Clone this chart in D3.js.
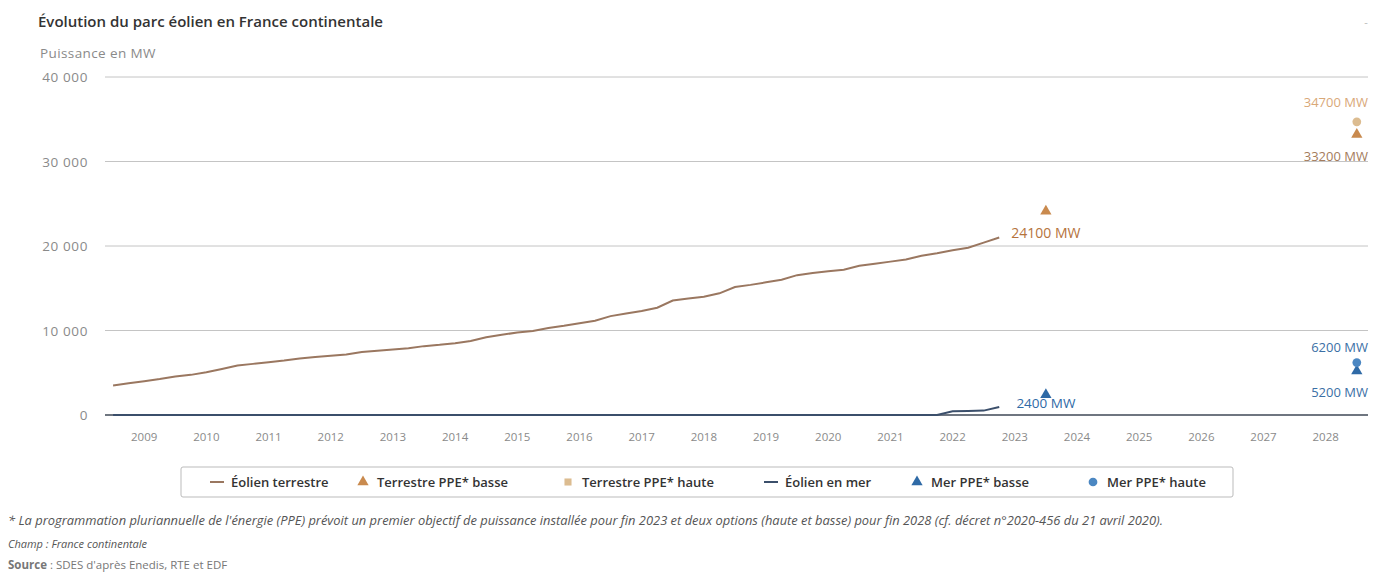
<!DOCTYPE html>
<html>
<head>
<meta charset="utf-8">
<script src="https://cdn.jsdelivr.net/npm/d3@7"></script>
<style>
  body { margin: 0; background: #fff; font-family: "Open Sans", sans-serif; }
  svg text { font-family: "Open Sans", sans-serif; }
</style>
</head>
<body>
<script>
// quarterly dates (fraction of year, end of quarter)
const quarters = [
  2009.00, 2009.25, 2009.50, 2009.75, 2010.00, 2010.25, 2010.50, 2010.75,
  2011.00, 2011.25, 2011.50, 2011.75, 2012.00, 2012.25, 2012.50, 2012.75,
  2013.00, 2013.25, 2013.50, 2013.75, 2014.00, 2014.25, 2014.50, 2014.75,
  2015.00, 2015.25, 2015.50, 2015.75, 2016.00, 2016.25, 2016.50, 2016.75,
  2017.00, 2017.25, 2017.50, 2017.75, 2018.00, 2018.25, 2018.50, 2018.75,
  2019.00, 2019.25, 2019.50, 2019.75, 2020.00, 2020.25, 2020.50, 2020.75,
  2021.00, 2021.25, 2021.50, 2021.75, 2022.00, 2022.25, 2022.50, 2022.75,
  2023.00, 2023.25
];
// Éolien terrestre, MW
const terrestre = [
  3500, 3750, 4000, 4250, 4550, 4750, 5050, 5450,
  5850, 6050, 6250, 6450, 6700, 6850, 7000, 7150,
  7450, 7600, 7750, 7900, 8150, 8300, 8500, 8750,
  9200, 9500, 9750, 9950, 10300, 10550, 10850, 11150,
  11700, 12000, 12300, 12700, 13550, 13800, 14000, 14400,
  15150, 15400, 15700, 16000, 16550, 16800, 17000, 17200,
  17650, 17900, 18150, 18400, 18850, 19150, 19500, 19800,
  20400, 21000
];
// Éolien en mer, MW
const mer = [
  0, 0, 0, 0, 0, 0, 0, 0,
  0, 0, 0, 0, 0, 0, 0, 0,
  0, 0, 0, 0, 0, 0, 0, 0,
  0, 0, 0, 0, 0, 0, 0, 0,
  0, 0, 0, 0, 0, 0, 0, 0,
  0, 0, 0, 0, 0, 0, 0, 0,
  0, 0, 0, 0, 0, 0, 450, 480,
  520, 950
];
// PPE objectives (end 2023, end 2028)
const ppeTerrestreBasse = [{t: 2024.0, v: 24100, label: "24100 MW"}, {t: 2029.0, v: 33200, label: "33200 MW"}];
const ppeTerrestreHaute = [{t: 2029.0, v: 34700, label: "34700 MW"}];
const ppeMerBasse = [{t: 2024.0, v: 2400, label: "2400 MW"}, {t: 2029.0, v: 5200, label: "5200 MW"}];
const ppeMerHaute = [{t: 2029.0, v: 6200, label: "6200 MW"}];

const years = d3.range(2009, 2029);
const yTicks = [0, 10000, 20000, 30000, 40000];

const COL = {
  terrestre: "#9a7760",
  tBasse: "#c98a4e",
  tHaute: "#dcbc90",
  mer: "#3b4f6b",
  mBasse: "#2f6aa6",
  mHaute: "#4b87c2"
};

const W = 1389, H = 585;
const MARGIN = {top: 77, right: 21, bottom: 170, left: 105};

const svg = d3.select("body").append("svg")
  .attr("width", W).attr("height", H);

const x = d3.scaleLinear()
  .domain([2008.87, 2029.18])
  .range([MARGIN.left, W - MARGIN.right]);
const y = d3.scaleLinear()
  .domain([0, 40000])
  .range([H - MARGIN.bottom, MARGIN.top]);

const fmt = v => d3.format(",")(v).replace(/,/g, " ");

// title
svg.append("text").attr("x", 38).attr("y", 27)
  .attr("font-size", 15).attr("font-weight", 600).attr("fill", "#333")
  .text("Évolution du parc éolien en France continentale");
svg.append("text").attr("x", 1366).attr("y", 26)
  .attr("font-size", 11).attr("fill", "#bbb").attr("text-anchor", "middle").text("-");

// y axis title
svg.append("text").attr("x", 40).attr("y", 58)
  .attr("font-size", 13.5).attr("letter-spacing", 0.4).attr("fill", "#8a8a8a")
  .text("Puissance en MW");

// grid + y labels
const grid = svg.append("g");
grid.selectAll("line").data(yTicks.filter(d => d > 0)).join("line")
  .attr("x1", MARGIN.left).attr("x2", W - MARGIN.right)
  .attr("y1", d => y(d)).attr("y2", d => y(d))
  .attr("stroke", "#c4c4c4").attr("stroke-width", 1);
svg.append("g").selectAll("text").data(yTicks).join("text")
  .attr("x", 88).attr("y", d => y(d) + 5)
  .attr("text-anchor", "end").attr("font-size", 13.5).attr("letter-spacing", 0.6).attr("fill", "#8a8a8a")
  .text(fmt);

// x axis line and labels
svg.append("line")
  .attr("x1", MARGIN.left).attr("x2", W - MARGIN.right)
  .attr("y1", y(0)).attr("y2", y(0))
  .attr("stroke", "#6f7680").attr("stroke-width", 2);
svg.append("g").selectAll("text").data(years).join("text")
  .attr("x", d => x(d + 0.5)).attr("y", y(0) + 26)
  .attr("text-anchor", "middle").attr("font-size", 11.5).attr("fill", "#8a8a8a")
  .text(d => d);

// lines
const line = d3.line().x(d => x(d[0])).y(d => y(d[1]));
svg.append("path")
  .datum(quarters.map((q, i) => [q, mer[i]]))
  .attr("fill", "none").attr("stroke", COL.mer).attr("stroke-width", 2)
  .attr("d", line);
svg.append("path")
  .datum(quarters.map((q, i) => [q, terrestre[i]]))
  .attr("fill", "none").attr("stroke", COL.terrestre).attr("stroke-width", 2)
  .attr("d", line);

// markers
const tri = d3.symbol(d3.symbolTriangle, 55);
const circ = d3.symbol(d3.symbolCircle, 60);
const sq = d3.symbol(d3.symbolSquare, 50);

function markers(data, sym, color) {
  svg.append("g").selectAll("path").data(data).join("path")
    .attr("transform", d => `translate(${x(d.t)},${y(d.v)})`)
    .attr("d", sym).attr("fill", color);
}
markers(ppeTerrestreBasse, tri, COL.tBasse);
markers(ppeTerrestreHaute, circ, COL.tHaute);
markers(ppeMerBasse, tri, COL.mBasse);
markers(ppeMerHaute, circ, COL.mHaute);

// data labels
function labels(data, color, dy, anchor, size) {
  svg.append("g").selectAll("text").data(data).join("text")
    .attr("x", d => anchor === "end" ? W - MARGIN.right : x(d.t))
    .attr("y", d => y(d.v) + dy)
    .attr("text-anchor", anchor)
    .attr("font-size", size).attr("fill", color)
    .text(d => d.label);
}
labels([ppeTerrestreBasse[0]], "#b5733c", 27, "middle", 14);
labels([ppeTerrestreBasse[1]], "#a47c5c", 27, "end", 13);
labels(ppeTerrestreHaute, "#d9a878", -15, "end", 13);
labels([ppeMerBasse[0]], "#2f6aa6", 13, "middle", 13.5);
labels([ppeMerBasse[1]], "#3b6fa5", 26, "end", 13);
labels(ppeMerHaute, "#3b6fa5", -11, "end", 13);

// legend
const legendItems = [
  {name: "Éolien terrestre", type: "line", color: COL.terrestre},
  {name: "Terrestre PPE* basse", type: "tri", color: COL.tBasse},
  {name: "Terrestre PPE* haute", type: "sq", color: COL.tHaute},
  {name: "Éolien en mer", type: "line", color: COL.mer},
  {name: "Mer PPE* basse", type: "tri", color: COL.mBasse},
  {name: "Mer PPE* haute", type: "circ", color: COL.mHaute}
];
const legendX = [210, 356, 561, 764, 910, 1086];
const ly = 482;
svg.append("rect").attr("x", 181).attr("y", 467).attr("width", 1052).attr("height", 30)
  .attr("fill", "none").attr("stroke", "#bbb").attr("rx", 2);
const lg = svg.append("g").selectAll("g").data(legendItems).join("g")
  .attr("transform", (d, i) => `translate(${legendX[i]},${ly})`);
lg.filter(d => d.type === "line").append("line")
  .attr("x1", 0).attr("x2", 14).attr("stroke", d => d.color).attr("stroke-width", 2);
lg.filter(d => d.type !== "line").append("path")
  .attr("transform", "translate(7,0)")
  .attr("d", d => d.type === "tri" ? tri() : d.type === "sq" ? sq() : circ())
  .attr("fill", d => d.color);
lg.append("text").attr("x", 21).attr("y", 5)
  .attr("font-size", 13).attr("font-weight", 600).attr("fill", "#333")
  .text(d => d.name);

// footnotes
svg.append("text").attr("x", 8).attr("y", 525)
  .attr("font-size", 12.9).attr("font-style", "italic").attr("fill", "#555")
  .text("* La programmation pluriannuelle de l'énergie (PPE) prévoit un premier objectif de puissance installée pour fin 2023 et deux options (haute et basse) pour fin 2028 (cf. décret n°2020-456 du 21 avril 2020).");
svg.append("text").attr("x", 8).attr("y", 548)
  .attr("font-size", 11).attr("font-style", "italic").attr("fill", "#555")
  .text("Champ : France continentale");
const src = svg.append("text").attr("x", 8).attr("y", 569)
  .attr("font-size", 11.5).attr("fill", "#777");
src.append("tspan").attr("font-weight", 700).text("Source");
src.append("tspan").text(" : SDES d'après Enedis, RTE et EDF");
</script>
</body>
</html>
